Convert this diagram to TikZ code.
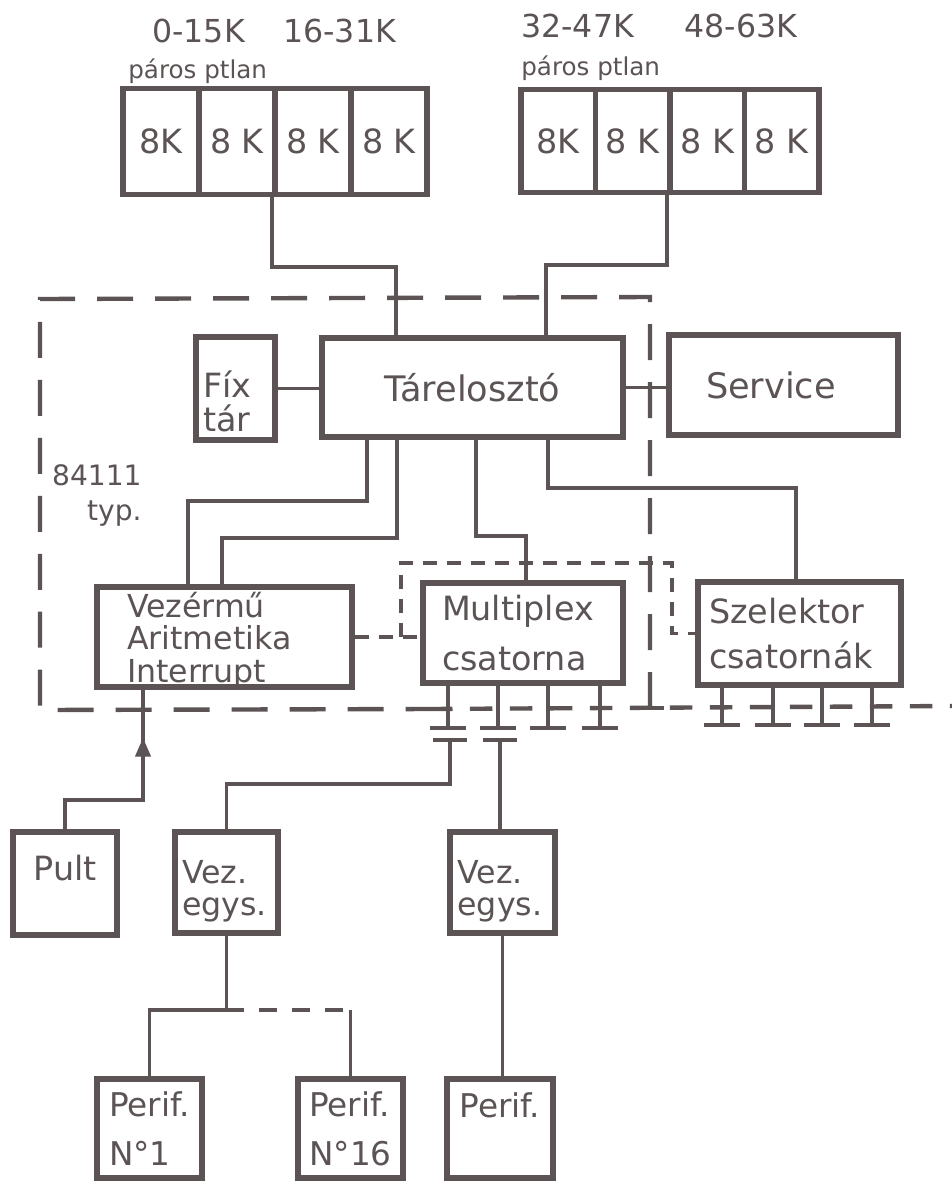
\documentclass[tikz,border=0pt]{standalone}
\usepackage{fontspec}
\setmainfont{DejaVu Sans}
\usetikzlibrary{arrows.meta}
\definecolor{ink}{RGB}{92,84,84}
\begin{document}
\begin{tikzpicture}[x=0.02cm,y=-0.02cm,
  box/.style={draw=ink, line width=3pt, inner sep=0pt, text=ink},
  conn/.style={draw=ink, line width=2.2pt},
  outer/.style={draw=ink, line width=2.5pt, dash pattern=on 0.72cm off 0.44cm},
  fine/.style={draw=ink, line width=2.2pt, dash pattern=on 0.28cm off 0.2cm},
  busdash/.style={draw=ink, line width=2.5pt, dash pattern=on 0.45cm off 0.35cm},
  txt/.style={text=ink, inner sep=0pt},
  f19/.style={font=\fontsize{19}{19}\selectfont}
]
\fill[white] (0,0) rectangle (952,1181);
\useasboundingbox (0,0) rectangle (952,1181);

% memory banks
\foreach \i/\cx/\t in {a/161/8K, b/237/8 K, c/313/8 K, d/389/8 K}
  \node[box, minimum width=1.52cm, minimum height=2.12cm, f19] (mem1\i) at (\cx,141.5) {\t};
\foreach \i/\cx/\t in {a/558.25/8K, b/632.75/8 K, c/707.25/8 K, d/781.75/8 K}
  \node[box, minimum width=1.49cm, minimum height=2.06cm, f19] (mem2\i) at (\cx,141) {\t};

% labels above
\node[txt, anchor=base west, font=\fontsize{18}{18}\selectfont] (l1) at (152,42) {0-15K};
\node[txt, anchor=base west, font=\fontsize{18}{18}\selectfont] (l2) at (283,42) {16-31K};
\node[txt, anchor=base west, font=\fontsize{18}{18}\selectfont] (l3) at (521,37) {32-47K};
\node[txt, anchor=base west, font=\fontsize{18}{18}\selectfont] (l4) at (684,37) {48-63K};
\node[txt, anchor=base west, font=\fontsize{14}{14}\selectfont] (p1l) at (128,78) {páros ptlan};
\node[txt, anchor=base west, font=\fontsize{14}{14}\selectfont] (p2l) at (521,75) {páros ptlan};
\node[txt, anchor=north east, align=right, font=\fontsize{16}{20}\selectfont] (typ) at (142,464) {84111\\typ.};

% main boxes
\node[box, minimum width=6.02cm, minimum height=1.98cm, font=\fontsize{20}{20}\selectfont] (tar) at (472.5,387.5) {Tárelosztó};
\node[box, minimum width=1.58cm, minimum height=2.06cm, text width=1.3cm, align=left, font=\fontsize{19}{19.4}\selectfont] (fix) at (235.5,388.5) {\rule{0pt}{30pt}Fíx\\tár};
\node[box, minimum width=4.58cm, minimum height=2cm, text width=3.1cm, align=left, font=\fontsize{20}{20}\selectfont] (srv) at (783.5,385) {Service};
\node[box, minimum width=5.1cm, minimum height=2cm, text width=3.9cm, align=left, text depth=37pt, font=\fontsize{18}{18.5}\selectfont] (vez) at (224.5,637) {Vezérmű\\Aritmetika\\Interrupt};
\node[box, minimum width=4cm, minimum height=2cm, text width=3.24cm, align=left, font=\fontsize{19}{28.5}\selectfont] (mux) at (523,633) {Multiplex\\csatorna};
\node[box, minimum width=4.06cm, minimum height=2.06cm, text width=3.62cm, align=left, font=\fontsize{19}{26}\selectfont] (sel) at (799.5,633.5) {Szelektor\\csatornák};

% lower boxes
\node[box, minimum width=2.08cm, minimum height=2.06cm, font=\fontsize{19}{19}\selectfont] (pult) at (65,883.5) {Pult\rule[-0.64cm]{0pt}{0.64cm}};
\node[box, minimum width=2.06cm, minimum height=2.02cm, text width=1.78cm, align=left, font=\fontsize{18}{18.2}\selectfont] (vez1) at (226.5,882.5) {\rule{0pt}{0.82cm}Vez.\\egys.};
\node[box, minimum width=2.1cm, minimum height=2.02cm, text width=1.8cm, align=left, font=\fontsize{18}{18.2}\selectfont] (vez2) at (502.5,882.5) {\rule{0pt}{0.82cm}Vez.\\egys.};
\node[box, minimum width=2.1cm, minimum height=1.98cm, align=left, font=\fontsize{18.6}{28}\selectfont] (p1) at (149.5,1128.5) {Perif.\\N°1};
\node[box, minimum width=2.1cm, minimum height=1.98cm, align=left, font=\fontsize{18.6}{28}\selectfont] (p16) at (350.5,1128.5) {Perif.\\N°16};
\node[box, minimum width=2.12cm, minimum height=1.98cm, font=\fontsize{18.6}{28}\selectfont] (p3) at (500,1128.5) {Perif.\rule[-0.92cm]{0pt}{0.92cm}};

% dashed region boundary
\draw[outer] (650,708) -- (650,297) -- (40,299) -- (40,710) -- (430,709);
\draw[busdash] (430,709) -- (952,706);
\draw[conn] (632,708) -- (664,708) (650,688) -- (650,708);

% memory to Tarelosztó
\draw[conn] (mem1c.south west) -- ++(0,70) -| ([xshift=-1.53cm]tar.north);
\draw[conn] (mem2c.south west) -- ++(0,70) -| ([xshift=1.47cm]tar.north);

% side links
\draw[conn] (fix.east) -- (fix.east -| tar.west);
\draw[conn] (tar.east) -- (tar.east -| srv.west);

% Tarelosztó down
\draw[conn] ([xshift=-2.11cm]tar.south) -- ++(0,61) -| ([xshift=-0.73cm]vez.north);
\draw[conn] ([xshift=-1.51cm]tar.south) -- ++(0,98) -| ([xshift=-0.05cm]vez.north);
\draw[conn] ([xshift=0.07cm]tar.south) -- ++(0,96) -| ([xshift=0.06cm]mux.north);
\draw[conn] ([xshift=1.51cm]tar.south) -- ++(0,48) -| ([xshift=-0.07cm]sel.north);

% dashed links
\draw[fine] (vez.east) -- (vez.east -| mux.west);
\coordinate (b1) at ([xshift=0.92cm]vez.east);
\draw[fine] (b1) |- (672,563) |- (sel.west);

% channel stubs
\foreach \dx/\n in {-1.5/1,-0.5/2,0.5/3,1.54/4}{
  \draw[conn] ([xshift=\dx cm]mux.south) -- ++(0,42) coordinate (ms\n);
  \draw[conn] ([xshift=-0.36cm]ms\n) -- ([xshift=0.36cm]ms\n);
}
\foreach \dx/\n in {-1.55/1,-0.53/2,0.45/3,1.45/4}{
  \draw[conn] ([xshift=\dx cm]sel.south) -- ++(0,37) coordinate (ss\n);
  \draw[conn] ([xshift=-0.36cm]ss\n) -- ([xshift=0.36cm]ss\n);
}
\coordinate (t1) at (450,740);
\coordinate (t2) at (500,740);
\draw[conn] ([xshift=-0.34cm]t1) -- ([xshift=0.34cm]t1);
\draw[conn] ([xshift=-0.34cm]t2) -- ([xshift=0.34cm]t2);
\draw[conn] (t1) -- ++(0,44) -| (vez1.north);
\draw[conn] (t2) -- (t2 |- vez2.north);

% Pult link with arrow
\coordinate (pa) at ([xshift=-1.63cm]vez.south);
\draw[conn] (pa) -- ++(0,110) -| (pult.north);
\draw[conn, -{Triangle[length=0.38cm,width=0.3cm]}] ([yshift=-1.4cm]pa) -- ([yshift=-0.96cm]pa);

% peripherals
\draw[conn] (vez1.south) -- ++(0,74) coordinate (j) -| (p1.north);
\draw[draw=ink, line width=2.2pt, dash pattern=on 0.36cm off 0.3cm] (j) -- (j -| p16.north);
\draw[conn] (j -| p16.north) -- (p16.north);
\draw[conn] (vez2.south) -- (vez2.south |- p3.north);
\end{tikzpicture}
\end{document}
